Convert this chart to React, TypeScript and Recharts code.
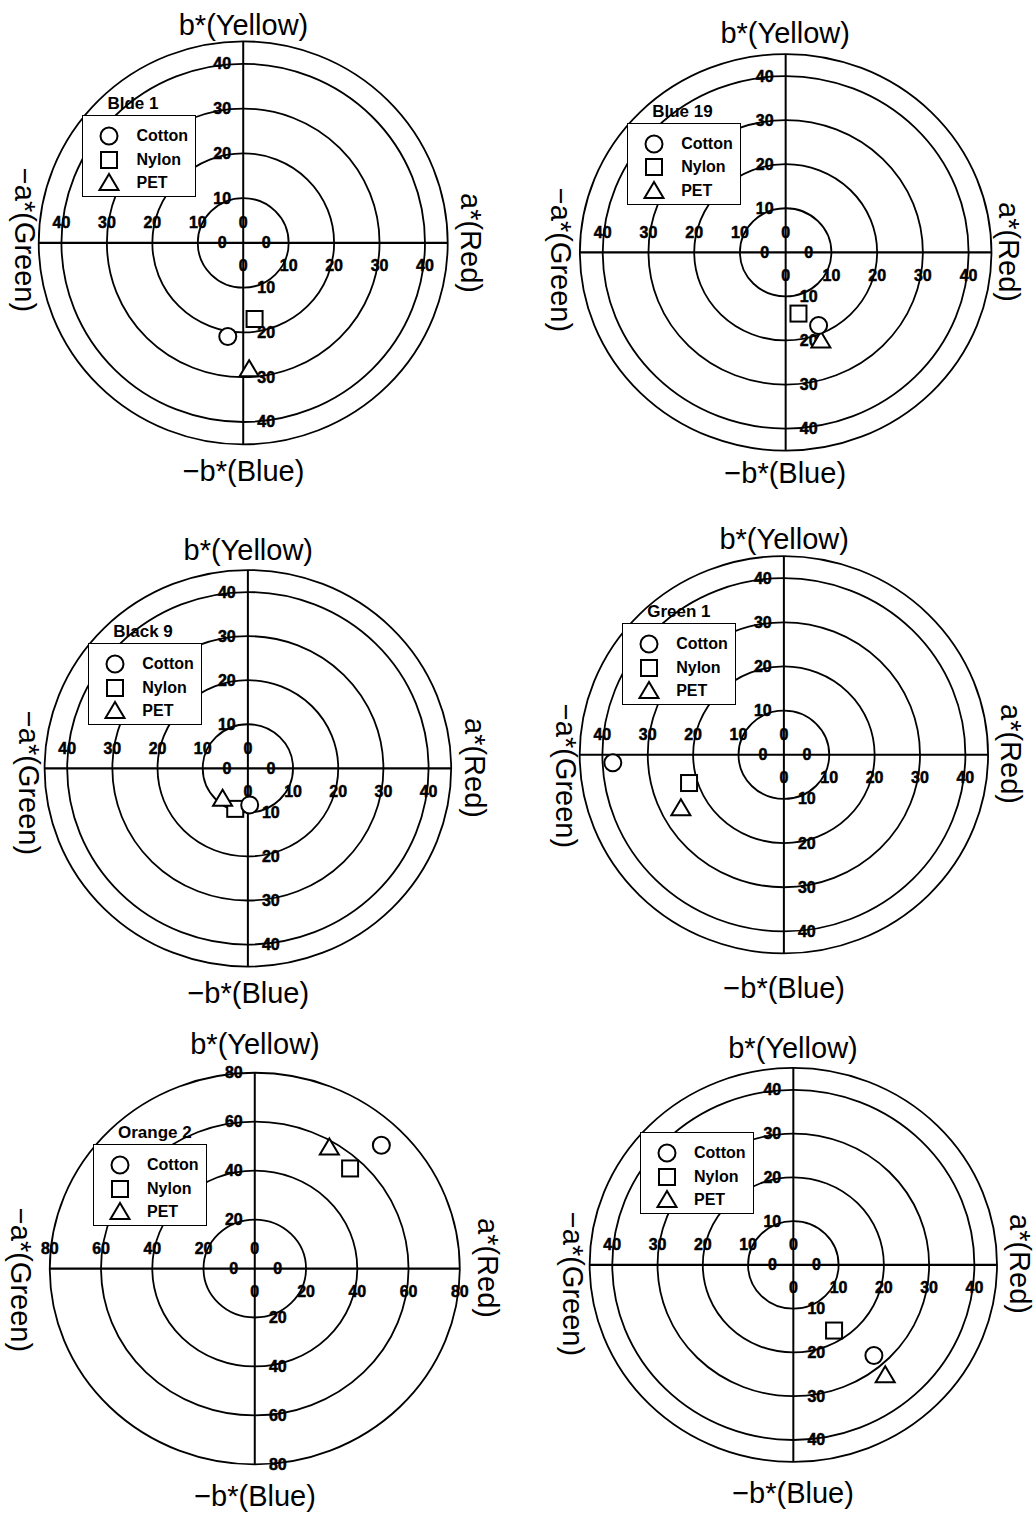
import React from "react";
import {
  ScatterChart,
  Scatter,
  XAxis,
  YAxis,
  ReferenceArea,
  ReferenceLine,
  Legend,
} from "recharts";

// dye names shown above each legend box
const panelNames = ["Blde 1", "Blue 19", "Black 9", "Green 1", "Orange 2", ""];
const fabrics = ["Cotton", "Nylon", "PET"];

// a* / b* readings per panel
const cottonA = [-3.4, 7.2, 0.4, -37.7, 49.4, 17.8];
const cottonB = [-20.9, -16.6, -8.3, -1.8, 50.4, -20.7];
const nylonA = [2.5, 2.8, -2.8, -20.9, 37.2, 9.0];
const nylonB = [-17.0, -13.9, -9.2, -6.4, 40.9, -15.0];
const petA = [1.3, 7.7, -5.6, -22.7, 29.1, 20.3];
const petB = [-28.2, -20.0, -6.9, -12.1, 49.5, -25.2];

const ticks40 = [0, 10, 20, 30, 40];
const ticks80 = [0, 20, 40, 60, 80];
const panelTicks = [ticks40, ticks40, ticks40, ticks40, ticks80, ticks40];
const panelOuter = [45, 45, 45, 45, 80, 45];

// page layout of each panel (pixels)
const layout = [
  { cx: 243.5, cy: 243.3, rx: 204.5, ry: 201.5, lg: [-161, -128], gap: [17, 26, 15, 22, -3] },
  { cx: 785.2, cy: 252, rx: 205.8, ry: 198.3, lg: [-158, -129], gap: [21, 23, 19, 17, 8] },
  { cx: 248.3, cy: 768.3, rx: 203.3, ry: 198.3, lg: [-160, -125], gap: [20, 26, 17, 22, 15] },
  { cx: 784.2, cy: 754.5, rx: 204.2, ry: 198.7, lg: [-162, -131], gap: [17, 35, 15, 22, 22] },
  { cx: 255, cy: 1268.5, rx: 205, ry: 195.8, lg: [-162, -124], gap: [29, 32, 30, 27, 12] },
  { cx: 793, cy: 1264.5, rx: 203.7, ry: 197, lg: [-153, -132], gap: [19, 32, 17, 22, 20] },
];

const FONT = "'Liberation Sans', Arial, sans-serif";

const Ring = (props: any) => (
  <ellipse
    cx={props.x + props.width / 2}
    cy={props.y + props.height / 2}
    rx={props.width / 2}
    ry={props.height / 2}
    fill="none"
    stroke="#000"
    strokeWidth={1.8}
  />
);

const tickOffset: Record<string, [number, number]> = {
  left: [0, -20],
  right: [0, 23],
  top: [-21, 0],
  bottom: [23, 0],
};

const TickText = (props: any) => {
  const { cx, cy, payload } = props;
  const [dx, dy] = tickOffset[payload.side];
  return (
    <text
      x={cx + dx}
      y={cy + dy}
      textAnchor="middle"
      dominantBaseline="central"
      fontSize={16}
      fontWeight={700}
      fontFamily={FONT}
      fill="#000"
      stroke="#000"
      strokeWidth={0.5}
    >
      {payload.label}
    </text>
  );
};

function markerSvg(kind: string, cx: number, cy: number) {
  if (kind === "Cotton")
    return <circle cx={cx} cy={cy} r={8.5} fill="#fff" stroke="#000" strokeWidth={2} />;
  if (kind === "Nylon")
    return <rect x={cx - 8} y={cy - 8} width={16} height={16} fill="#fff" stroke="#000" strokeWidth={2} />;
  return (
    <polygon
      points={`${cx},${cy - 9} ${cx - 9.5},${cy + 7} ${cx + 9.5},${cy + 7}`}
      fill="#fff"
      stroke="#000"
      strokeWidth={2}
    />
  );
}

const markerShape = (kind: string) => (props: any) => markerSvg(kind, props.cx, props.cy);

const legendContent = (title: string) => (props: any) => {
  const names = (props.payload || []).map((p: any) => p.value);
  const rows = fabrics.filter((f) => names.includes(f));
  return (
    <div
      style={{
        position: "relative",
        width: 114,
        height: 82,
        border: "1.5px solid #000",
        background: "#fff",
        boxSizing: "border-box",
        fontFamily: FONT,
      }}
    >
      {title && (
        <div
          style={{
            position: "absolute",
            left: 24,
            top: -21,
            fontSize: 17,
            fontWeight: 700,
            lineHeight: "18px",
            whiteSpace: "nowrap",
          }}
        >
          {title}
        </div>
      )}
      {rows.map((name, i) => (
        <div key={name} style={{ position: "absolute", left: 0, top: 9 + i * 23.5, height: 22, width: 112 }}>
          <svg width={40} height={22} style={{ position: "absolute", left: 6, top: 0 }}>
            {markerSvg(name, 20, 11)}
          </svg>
          <span
            style={{
              position: "absolute",
              left: 53,
              top: 2,
              fontSize: 16,
              fontWeight: 700,
              lineHeight: "18px",
            }}
          >
            {name}
          </span>
        </div>
      ))}
    </div>
  );
};

function Panel({ index }: { index: number }) {
  const L = layout[index];
  const outer = panelOuter[index];
  const ticks = panelTicks[index];
  const D = (outer * 10) / 9;
  const w = (L.rx * 2 * D) / outer;
  const h = (L.ry * 2 * D) / outer;
  const rings = ticks.filter((t) => t > 0);
  if (!rings.includes(outer)) rings.push(outer);

  const tickPoints = ticks.flatMap((t) => [
    { x: -t, y: 0, label: t, side: "left" },
    { x: t, y: 0, label: t, side: "right" },
    { x: 0, y: t, label: t, side: "top" },
    { x: 0, y: -t, label: t, side: "bottom" },
  ]);

  const cotton = [{ x: cottonA[index], y: cottonB[index] }];
  const nylon = [{ x: nylonA[index], y: nylonB[index] }];
  const pet = [{ x: petA[index], y: petB[index] }];

  const [gTop, gBottom, gLeft, gRight, leftDy] = L.gap;
  const titleStyle: React.CSSProperties = {
    position: "absolute",
    fontFamily: FONT,
    fontSize: 29,
    lineHeight: "29px",
    whiteSpace: "nowrap",
    color: "#000",
  };

  return (
    <div
      style={{
        position: "absolute",
        left: L.cx - w / 2,
        top: L.cy - h / 2,
        width: w,
        height: h,
      }}
    >
      <ScatterChart width={w} height={h} margin={{ top: 0, right: 0, bottom: 0, left: 0 }}>
        <XAxis type="number" dataKey="x" domain={[-D, D]} hide allowDataOverflow />
        <YAxis type="number" dataKey="y" domain={[-D, D]} hide allowDataOverflow />
        {rings.map((r) => (
          <ReferenceArea key={r} x1={-r} x2={r} y1={-r} y2={r} shape={Ring} />
        ))}
        <ReferenceLine
          segment={[
            { x: -outer, y: 0 },
            { x: outer, y: 0 },
          ]}
          stroke="#000"
          strokeWidth={2.2}
        />
        <ReferenceLine
          segment={[
            { x: 0, y: -outer },
            { x: 0, y: outer },
          ]}
          stroke="#000"
          strokeWidth={2}
        />
        <Scatter data={tickPoints} shape={TickText} legendType="none" isAnimationActive={false} />
        <Scatter name="Nylon" data={nylon} shape={markerShape("Nylon")} isAnimationActive={false} />
        <Scatter name="PET" data={pet} shape={markerShape("PET")} isAnimationActive={false} />
        <Scatter name="Cotton" data={cotton} shape={markerShape("Cotton")} isAnimationActive={false} />
        <Legend
          layout="vertical"
          align="center"
          verticalAlign="middle"
          content={legendContent(panelNames[index])}
          wrapperStyle={{ left: w / 2 + L.lg[0], top: h / 2 + L.lg[1], width: 114, height: 82 }}
        />
      </ScatterChart>
      <div style={{ ...titleStyle, left: w / 2, top: h / 2 - L.ry - gTop, transform: "translate(-50%,-50%)" }}>
        b*(Yellow)
      </div>
      <div style={{ ...titleStyle, left: w / 2, top: h / 2 + L.ry + gBottom, transform: "translate(-50%,-50%)" }}>
        −b*(Blue)
      </div>
      <div
        style={{
          ...titleStyle,
          left: w / 2 - L.rx - gLeft,
          top: h / 2 + leftDy,
          transform: "translate(-50%,-50%) rotate(90deg)",
        }}
      >
        −a*(Green)
      </div>
      <div
        style={{
          ...titleStyle,
          left: w / 2 + L.rx + gRight,
          top: h / 2,
          transform: "translate(-50%,-50%) rotate(90deg)",
        }}
      >
        a*(Red)
      </div>
    </div>
  );
}

export default function App() {
  return (
    <div
      style={{
        position: "absolute",
        left: 0,
        top: 0,
        width: 1035,
        height: 1514,
        background: "#fff",
        overflow: "hidden",
      }}
    >
      {panelNames.map((_, i) => (
        <Panel key={i} index={i} />
      ))}
    </div>
  );
}
